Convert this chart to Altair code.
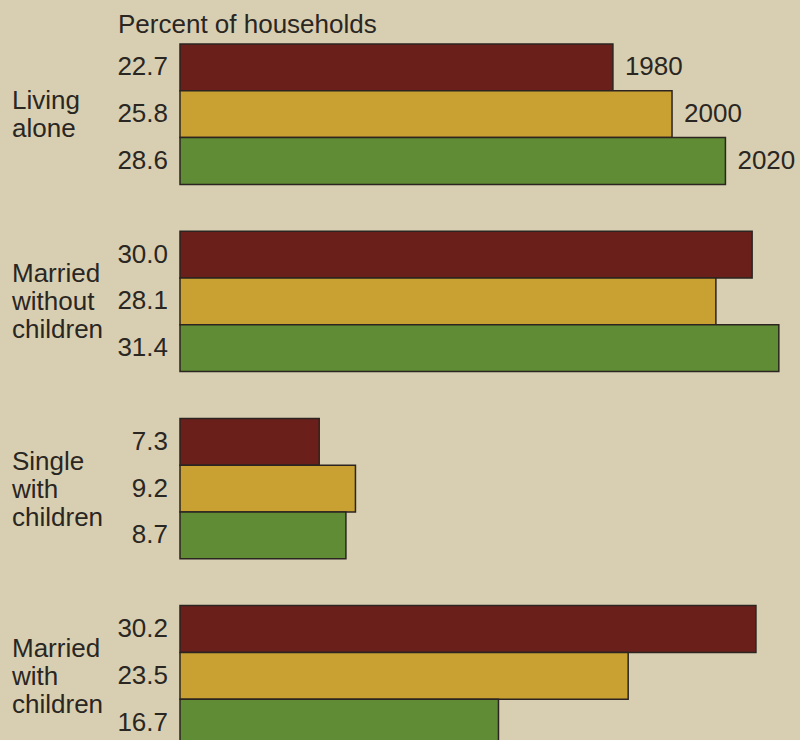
import altair as alt
import pandas as pd

categories = ["Living alone", "Married without children", "Single with children", "Married with children"]
cat_lines = ["Living\nalone", "Married\nwithout\nchildren", "Single\nwith\nchildren", "Married\nwith\nchildren"]
years = ["1980", "2000", "2020"]
values = [
    [22.7, 25.8, 28.6],
    [30.0, 28.1, 31.4],
    [7.3, 9.2, 8.7],
    [30.2, 23.5, 16.7],
]
colors = ["#6a1f1b", "#c9a133", "#5f8c35"]

rows = []
slots = []
for gi, cat in enumerate(categories):
    for yi, yr in enumerate(years):
        slot = f"{gi}-{yr}"
        slots.append(slot)
        rows.append({"cat": cat, "label": cat_lines[gi], "nlines": cat_lines[gi].count("\n") + 1,
                     "year": yr, "value": values[gi][yi], "slot": slot, "first": gi == 0})
    if gi < len(categories) - 1:
        slots.append(f"{gi}-gap")
df = pd.DataFrame(rows)

FONT = "Liberation Sans"
FS = 26
LH = 28
TXT = "#2a2622"

yscale = alt.Scale(domain=slots, range=[0, 702], paddingInner=0, paddingOuter=0)
xscale = alt.Scale(domain=[0, 32.51], nice=False, zero=True)
Y = alt.Y("slot:N", scale=yscale, axis=None)

bars = alt.Chart(df).mark_bar(stroke="#2b2420", strokeWidth=1.5, opacity=1).encode(
    x=alt.X("value:Q", scale=xscale, axis=None),
    y=Y,
    color=alt.Color("year:N", scale=alt.Scale(domain=years, range=colors), legend=None),
)

vals = alt.Chart(df).mark_text(align="right", baseline="middle", font=FONT, fontSize=FS, color=TXT).encode(
    x=alt.value(-12),
    y=Y,
    text=alt.Text("value:Q", format=".1f"),
)

def cat_layer(n):
    return alt.Chart(df).transform_filter(
        (alt.datum.year == "2000") & (alt.datum.nlines == n)
    ).mark_text(
        align="left", baseline="middle", font=FONT, fontSize=FS, color=TXT,
        lineBreak="\n", lineHeight=LH, dy=-(n - 1) * LH / 2 + 1,
    ).encode(
        x=alt.value(-168),
        y=Y,
        text="label:N",
    )

yrs = alt.Chart(df).transform_filter(alt.datum.first).mark_text(
    align="left", baseline="middle", font=FONT, fontSize=FS, color=TXT, dx=12
).encode(
    x=alt.X("value:Q", scale=xscale, axis=None),
    y=Y,
    text="year:N",
)

title = alt.Chart(pd.DataFrame({"t": ["Percent of households"]})).mark_text(
    align="left", baseline="middle", font=FONT, fontSize=FS, color=TXT
).encode(
    x=alt.value(-62),
    y=alt.value(-19),
    text="t:N",
)

chart = alt.layer(bars, vals, cat_layer(2), cat_layer(3), yrs, title).properties(
    width=620, height=696,
    padding={"left": 180, "top": 44, "right": 0, "bottom": 0},
    autosize=alt.AutoSizeParams(type="none"),
    background="#d8cfb2",
).configure_view(stroke=None)

chart.save("out.html", embed_options={"renderer": "svg", "actions": False})
